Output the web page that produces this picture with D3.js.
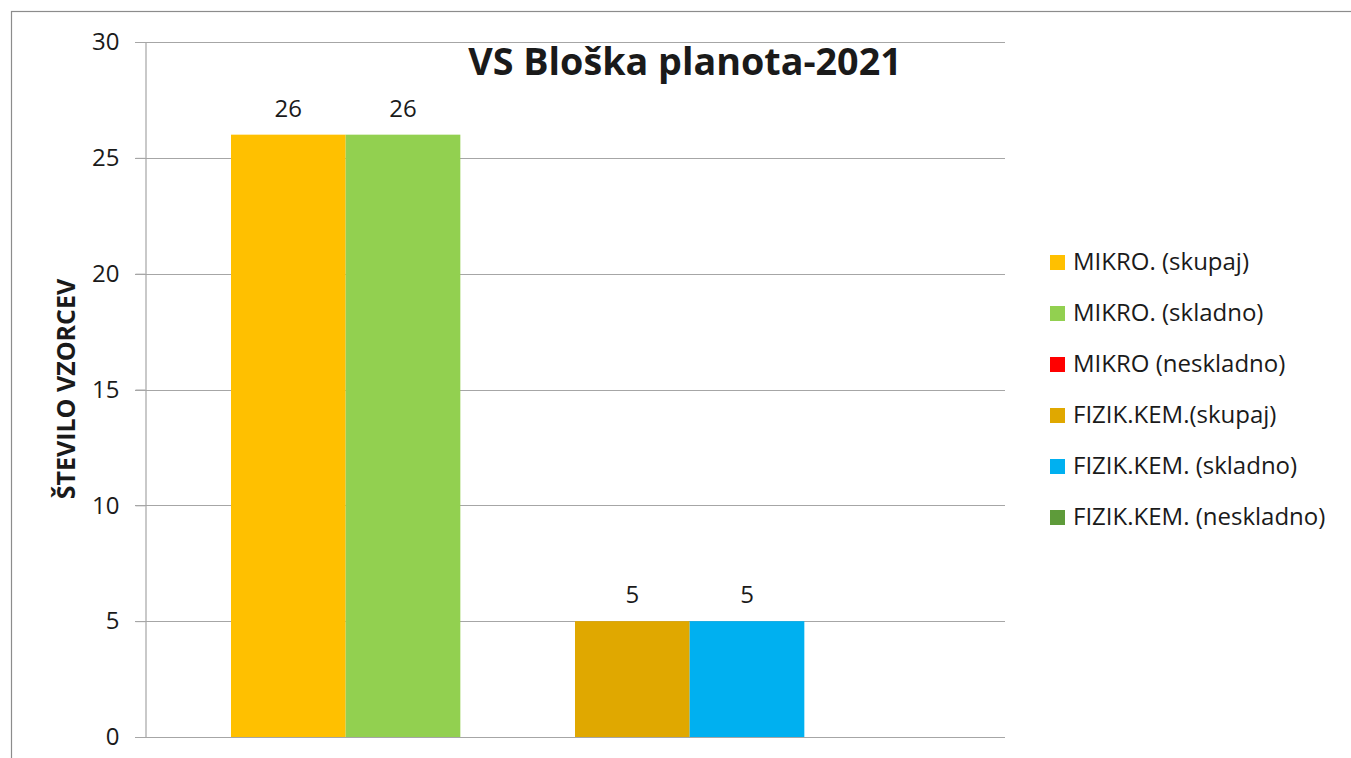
<!DOCTYPE html>
<html>
<head>
<meta charset="utf-8">
<script src="https://cdn.jsdelivr.net/npm/d3@7"></script>
<style>
  body { margin: 0; background: #fff; }
  text { font-family: "Open Sans", Lato, sans-serif; fill: #1a1a1a; }
</style>
</head>
<body>
<div id="chart"></div>
<script>
"use strict";

// chart data
const seriesNames = ["MIKRO. (skupaj)", "MIKRO. (skladno)", "MIKRO (neskladno)",
                     "FIZIK.KEM.(skupaj)", "FIZIK.KEM. (skladno)", "FIZIK.KEM. (neskladno)"];
const seriesValues = [26, 26, 0, 5, 5, 0];
const seriesColors = ["#FFC000", "#92D050", "#FF0000", "#E0A800", "#00B0F0", "#5E9B3A"];
const yTicks = [0, 5, 10, 15, 20, 25, 30];
const chartTitle = "VS Bloška planota-2021";
const yTitle = "ŠTEVILO VZORCEV";

const width = 1351, height = 758;
const plot = {left: 145, right: 1005, top: 42, bottom: 737};

const svg = d3.select("#chart").append("svg")
    .attr("width", width)
    .attr("height", height);

// outer chart border (only top and left visible in the frame)
svg.append("rect")
    .attr("x", 11.5).attr("y", 11.5)
    .attr("width", width + 20).attr("height", height + 20)
    .attr("fill", "none")
    .attr("stroke", "#8c8c8c")
    .attr("stroke-width", 1.2);

let xScale = d3.scaleBand()
    .domain(seriesNames)
    .range([plot.left, plot.right])
    .paddingInner(0)
    .paddingOuter(0.75);

let yScale = d3.scaleLinear()
    .domain([0, 30])
    .range([plot.bottom, plot.top]);

// gridlines
svg.append("g")
    .selectAll("line")
    .data(yTicks)
    .join("line")
      .attr("x1", plot.left - 10)
      .attr("x2", plot.right)
      .attr("y1", d => Math.round(yScale(d)) + 0.5)
      .attr("y2", d => Math.round(yScale(d)) + 0.5)
      .attr("stroke", "#a6a6a6")
      .attr("stroke-width", 1.2);

// y axis
const yAxis = svg.append("g")
    .attr("transform", "translate(" + (plot.left + 0.5) + ",0)")
    .call(d3.axisLeft(yScale).tickValues(yTicks).tickSize(10).tickPadding(16));
yAxis.select(".domain").attr("stroke", "#a6a6a6").attr("stroke-width", 1.2);
yAxis.selectAll(".tick line").attr("stroke", "#a6a6a6");
yAxis.selectAll(".tick text")
    .attr("font-size", 24)
    .attr("font-family", "'Open Sans', sans-serif")
    .attr("fill", "#1a1a1a");

// bars
svg.append("g")
    .selectAll("rect")
    .data(seriesValues)
    .join("rect")
      .attr("x", (d, i) => xScale(seriesNames[i]))
      .attr("y", d => yScale(d))
      .attr("width", xScale.bandwidth())
      .attr("height", d => yScale(0) - yScale(d))
      .attr("fill", (d, i) => seriesColors[i]);

// data labels (zero values are not labelled)
svg.append("g")
    .selectAll("text")
    .data(seriesValues.map((v, i) => ({v: v, name: seriesNames[i]})).filter(d => d.v > 0))
    .join("text")
      .attr("x", d => xScale(d.name) + xScale.bandwidth() / 2)
      .attr("y", d => yScale(d.v) - 18)
      .attr("text-anchor", "middle")
      .attr("font-size", 24)
      .text(d => d.v);

// title
svg.append("text")
    .attr("x", 685)
    .attr("y", 75)
    .attr("text-anchor", "middle")
    .attr("font-family", "Lato, sans-serif")
    .attr("font-size", 37.7)
    .attr("font-weight", "bold")
    .attr("fill", "#000")
    .text(chartTitle);

// y axis title
svg.append("text")
    .attr("transform", "translate(75,389) rotate(-90)")
    .attr("text-anchor", "middle")
    .attr("font-size", 25)
    .attr("font-weight", "bold")
    .attr("fill", "#000")
    .text(yTitle);

// legend
const legend = svg.append("g")
    .selectAll("g")
    .data(seriesNames)
    .join("g")
      .attr("transform", (d, i) => "translate(1050," + (262 + i * 51) + ")");

legend.append("rect")
    .attr("x", 0).attr("y", -7)
    .attr("width", 15).attr("height", 15)
    .attr("fill", (d, i) => seriesColors[i]);

legend.append("text")
    .attr("x", 23)
    .attr("y", 8)
    .attr("font-size", 24)
    .text(d => d);
</script>
</body>
</html>
